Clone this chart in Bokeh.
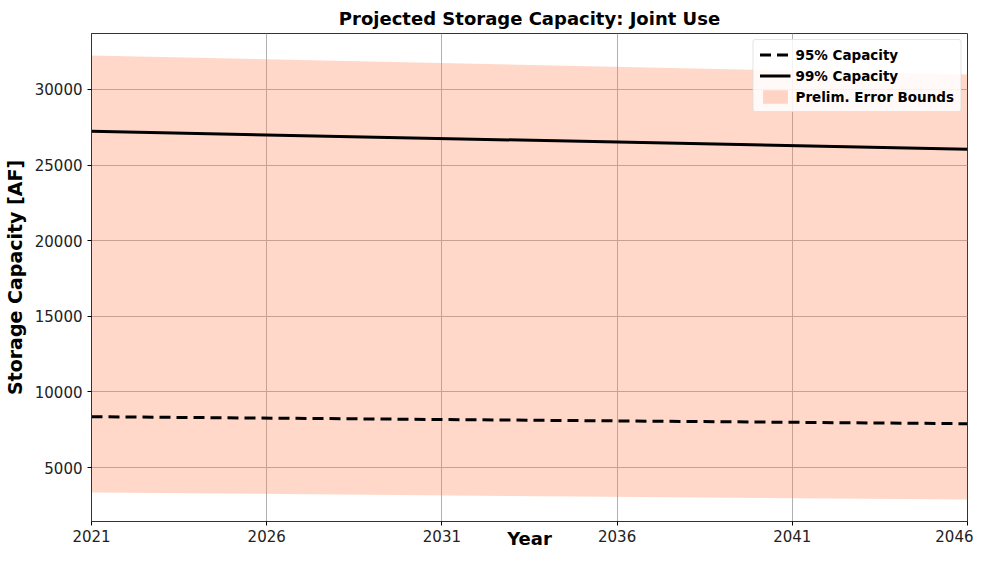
from bokeh.plotting import figure
from bokeh.embed import file_html
from bokeh.resources import INLINE
from bokeh.models import Range1d, FixedTicker, Legend, LegendItem

years = [2021, 2046]
cap95 = [8364, 7902]
cap99 = [27230, 26042]
err_upper = [32243, 30989]
err_lower = [3351, 2889]
x_ticks = [2021, 2026, 2031, 2036, 2041, 2046]
y_ticks = [5000, 10000, 15000, 20000, 25000, 30000]
x_title = "Year"
y_title = "Storage Capacity [AF]"

p = figure(width=973, height=551, output_backend="svg", toolbar_location=None,
           x_range=Range1d(2021, 2046), y_range=Range1d(1438, 33694),
           min_border_left=82, min_border_right=6, min_border_top=24, min_border_bottom=0)

p.title.text = "Projected Storage Capacity: Joint Use"
p.title.align = "center"
p.title.text_font = "DejaVu Sans"
p.title.text_font_size = "18px"
p.title.text_font_style = "bold"
p.title.text_color = "black"

band = p.varea(x=years, y1=err_lower, y2=err_upper, fill_color="coral", fill_alpha=0.3)
l95 = p.line(years, cap95, line_color="black", line_width=3, line_dash="11 6")
l99 = p.line(years, cap99, line_color="black", line_width=3)

p.xaxis.ticker = FixedTicker(ticks=x_ticks)
p.yaxis.ticker = FixedTicker(ticks=y_ticks)
p.xaxis.axis_label = x_title
p.yaxis.axis_label = y_title
for ax in (p.xaxis, p.yaxis):
    ax.axis_label_text_font = "DejaVu Sans"
    ax.axis_label_text_font_style = "bold"
    ax.axis_label_text_color = "black"
    ax.major_label_text_font = "DejaVu Sans"
    ax.major_label_text_font_size = "15px"
    ax.major_label_text_color = "#222222"
    ax.minor_tick_line_color = None
    ax.major_tick_out = 4
    ax.major_tick_in = 0
    ax.axis_line_color = "#333333"
p.xaxis.axis_label_text_font_size = "18px"
p.yaxis.axis_label_text_font_size = "19px"
p.xaxis.major_label_standoff = 4
p.xaxis.axis_label_standoff = -17
p.yaxis.axis_label_standoff = 6

p.xgrid.ticker = FixedTicker(ticks=x_ticks)
p.ygrid.ticker = FixedTicker(ticks=y_ticks)
p.grid.grid_line_color = "#b0b0b0"
p.grid.grid_line_width = 1
p.outline_line_color = "#333333"
p.outline_line_width = 1

legend = Legend(items=[
    LegendItem(label="95% Capacity", renderers=[l95]),
    LegendItem(label="99% Capacity", renderers=[l99]),
    LegendItem(label="Prelim. Error Bounds", renderers=[band]),
], location="top_right")
legend.label_text_font = "DejaVu Sans"
legend.label_text_font_size = "13.5px"
legend.label_text_font_style = "bold"
legend.label_text_color = "black"
legend.label_height = 17
legend.glyph_height = 17
legend.glyph_width = 31
legend.spacing = 4
legend.padding = 6
legend.margin = 6
legend.border_line_color = "#cccccc"
legend.border_radius = 3
legend.background_fill_alpha = 0.85
p.add_layout(legend)

open("out.html", "w").write(file_html(p, INLINE))
